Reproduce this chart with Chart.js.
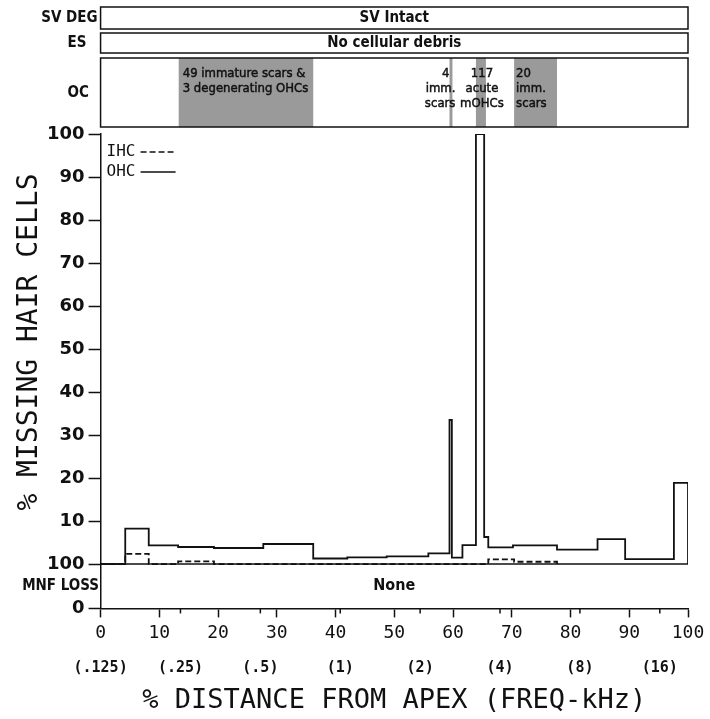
<!DOCTYPE html>
<html><head><meta charset="utf-8">
<script src="https://cdn.jsdelivr.net/npm/chart.js@4/dist/chart.umd.min.js"></script>
<style>html,body{margin:0;padding:0;background:#fff;}</style>
</head><body>
<canvas id="c" width="710" height="719"></canvas>
<script>
// ---- data ----
const ohcX = [0, 4.2, 8.2, 13.2, 19.3, 27.7, 36.2, 42.0, 48.7, 55.8, 59.4, 59.8, 61.6, 63.9, 65.3, 66.0, 70.2, 77.7, 84.6, 89.3, 97.6, 100];
const ohcY = [0, 8.25, 4.36, 3.97, 3.74, 4.67, 1.3, 1.55, 1.8, 2.5, 33.5, 1.5, 4.4, 100, 6.3, 3.9, 4.36, 3.35, 5.8, 1.17, 18.9, 0];
const ihcX = [0, 4.2, 8.2, 13.2, 19.3, 66.0, 70.4, 77.7];
const ihcY = [0, 2.4, 0, 0.62, 0, 1.1, 0.55, 0];
const seriesNames = ['IHC', 'OHC'];
const xTickValues = [0, 10, 20, 30, 40, 50, 60, 70, 80, 90, 100];
const freqTickValues = [0, 13.6, 27.2, 40.8, 54.4, 68.0, 81.6, 95.2];
const freqTickLabels = ['(.125)', '(.25)', '(.5)', '(1)', '(2)', '(4)', '(8)', '(16)'];
const yTickValues = [0, 10, 20, 30, 40, 50, 60, 70, 80, 90, 100];
const mnfTickLabels = ['0', '100'];
const rowLabels = ['SV DEG', 'ES', 'OC', 'MNF LOSS'];
const svText = 'SV Intact';
const esText = 'No cellular debris';
const mnfText = 'None';
const ocStart = [13.3, 59.4, 63.9, 70.4];
const ocEnd = [36.2, 59.9, 65.6, 77.7];
const ocTexts = [
  ['49 immature scars &', '3 degenerating OHCs'],
  ['4', 'imm.', 'scars'],
  ['117', 'acute', 'mOHCs'],
  ['20', 'imm.', 'scars']
];
const xTitle = '% DISTANCE FROM APEX (FREQ-kHz)';
const yTitle = '% MISSING HAIR CELLS';

// ---- layout / style ----
const INK = '#111';
const Y_MIN = -10.3;           // room for the MNF LOSS strip below the main plot
const NARROW = '"Liberation Sans Narrow", "Arial Narrow", "DejaVu Sans Condensed", sans-serif';
const COND = '"DejaVu Sans Condensed", "DejaVu Sans", sans-serif';
const MONO = '"DejaVu Sans Mono", monospace';

function heavyText(ctx, t, px, py) {
  ctx.fillText(t, px, py);
  ctx.strokeText(t, px, py);
}

const panelPlugin = {
  id: 'panels',
  afterDraw(chart) {
    const {ctx, chartArea: a, scales: {x, y}} = chart;
    const L = a.left, R = a.right;
    ctx.save();
    ctx.strokeStyle = INK; ctx.lineWidth = 1.5;
    const boxes = [[7, 29], [33, 53], [58, 127]];
    ctx.fillStyle = '#9a9a9a';
    ocStart.forEach((s, i) => {
      const x0 = x.getPixelForValue(s), x1 = x.getPixelForValue(ocEnd[i]);
      ctx.fillRect(x0, boxes[2][0], x1 - x0, boxes[2][1] - boxes[2][0]);
    });
    boxes.forEach(b => ctx.strokeRect(L, b[0], R - L, b[1] - b[0]));
    const mnfMid = (y.getPixelForValue(0) + y.getPixelForValue(Y_MIN)) / 2;
    // row labels
    ctx.fillStyle = INK;
    ctx.font = 'bold 15px ' + COND;
    ctx.textBaseline = 'middle';
    ctx.textAlign = 'right';
    ctx.fillText(rowLabels[0], L - 3, 18.5);
    ctx.textAlign = 'left';
    ctx.fillText(rowLabels[1], L - 33, 43.5);
    ctx.fillText(rowLabels[2], L - 33, 93);
    ctx.textAlign = 'right';
    ctx.fillText(rowLabels[3], L - 1.5, mnfMid);
    // y axis title (centred on the main plot, not on the MNF strip)
    ctx.save();
    ctx.font = '28px ' + MONO;
    ctx.textAlign = 'center';
    ctx.translate(30, (y.getPixelForValue(0) + y.getPixelForValue(100)) / 2 - 7);
    ctx.rotate(-Math.PI / 2);
    ctx.fillText(yTitle, 0, 0);
    ctx.restore();
    // box texts
    ctx.font = 'bold 15px ' + NARROW;
    ctx.textAlign = 'center';
    const cx = (L + R) / 2;
    ctx.fillText(svText, cx, 18.5);
    ctx.fillText(esText, cx, 43.5);
    ctx.font = 'bold 16px ' + NARROW;
    ctx.fillText(mnfText, cx, mnfMid);
    ctx.font = '13px ' + NARROW;
    ctx.lineWidth = 0.45;
    const lineY = [74, 89, 104];
    ctx.textAlign = 'left';
    ocTexts[0].forEach((t, k) => heavyText(ctx, t, x.getPixelForValue(ocStart[0]) + 4, lineY[k]));
    ctx.textAlign = 'right';
    const r1 = x.getPixelForValue(ocEnd[1]);
    heavyText(ctx, ocTexts[1][0], r1 - 3, lineY[0]);
    heavyText(ctx, ocTexts[1][1], r1 + 3, lineY[1]);
    heavyText(ctx, ocTexts[1][2], r1 + 3, lineY[2]);
    ctx.textAlign = 'center';
    const c2 = (x.getPixelForValue(ocStart[2]) + x.getPixelForValue(ocEnd[2])) / 2;
    ocTexts[2].forEach((t, k) => heavyText(ctx, t, c2 + 1, lineY[k]));
    ctx.textAlign = 'left';
    ocTexts[3].forEach((t, k) => heavyText(ctx, t, x.getPixelForValue(ocStart[3]) + 2, lineY[k]));

    // baseline of main plot
    ctx.lineWidth = 1.5;
    const y0 = y.getPixelForValue(0);
    ctx.beginPath(); ctx.moveTo(L, y0); ctx.lineTo(R, y0); ctx.stroke();
    // frequency minor ticks on x axis
    const yb = a.bottom;
    freqTickValues.forEach(v => {
      if (xTickValues.includes(v)) return;
      const px = x.getPixelForValue(v);
      ctx.beginPath(); ctx.moveTo(px, yb); ctx.lineTo(px, yb + 5); ctx.stroke();
    });
    // legend
    ctx.font = '16px ' + MONO;
    ctx.textAlign = 'left';
    chart.data.datasets.forEach((ds, i) => {
      const ly = 152 + i * 20;
      ctx.fillStyle = INK;
      ctx.fillText(ds.label, L + 6, ly);
      ctx.setLineDash(ds.borderDash || []);
      ctx.lineWidth = 1.5;
      ctx.beginPath(); ctx.moveTo(L + 40, ly); ctx.lineTo(L + 75, ly); ctx.stroke();
    });
    ctx.setLineDash([]);
    ctx.restore();
  }
};

new Chart(document.getElementById('c'), {
  type: 'line',
  data: {
    datasets: [
      { label: seriesNames[0], data: ihcX.map((v, i) => ({x: v, y: ihcY[i]})), stepped: 'before',
        borderColor: INK, borderWidth: 1.8, borderDash: [6, 3], pointRadius: 0, fill: false },
      { label: seriesNames[1], data: ohcX.map((v, i) => ({x: v, y: ohcY[i]})), stepped: 'before',
        borderColor: INK, borderWidth: 1.8, pointRadius: 0, fill: false }
    ]
  },
  options: {
    responsive: false, animation: false, devicePixelRatio: 1,
    layout: { padding: { top: 134, right: 22, left: 43, bottom: 5 } },
    plugins: { legend: { display: false }, tooltip: { enabled: false } },
    scales: {
      x: {
        type: 'linear', min: 0, max: 100, position: 'bottom',
        afterBuildTicks: s => { s.ticks = xTickValues.map(v => ({value: v})); },
        grid: { drawOnChartArea: false, tickLength: 9, tickColor: INK, tickWidth: 1.5 },
        border: { color: INK, width: 1.5 },
        ticks: { color: INK, font: { family: MONO, size: 18 }, padding: 5, maxRotation: 0, autoSkip: false }
      },
      x2: {
        type: 'linear', min: 0, max: 100, position: 'bottom',
        afterBuildTicks: s => { s.ticks = freqTickValues.map(v => ({value: v})); },
        grid: { display: false, drawTicks: false },
        border: { display: false },
        ticks: { color: INK, callback: (v, i) => freqTickLabels[i], font: { family: MONO, size: 15, weight: 'bold' },
                 padding: 10, maxRotation: 0, autoSkip: false },
        title: { display: true, text: xTitle, color: INK, font: { family: MONO, size: 27, lineHeight: 1.0 }, padding: { top: 0, bottom: 0 } }
      },
      y: {
        type: 'linear', min: Y_MIN, max: 100,
        afterBuildTicks: s => { s.ticks = [{value: Y_MIN}].concat(yTickValues.map(v => ({value: v}))); },
        grid: { drawOnChartArea: false, tickLength: 12, tickColor: INK, tickWidth: 1.5 },
        border: { color: INK, width: 1.5 },
        ticks: {
          color: INK, font: { family: '"DejaVu Sans", sans-serif', size: 18, weight: 'bold' }, padding: 4, autoSkip: false,
          callback: v => v === Y_MIN ? mnfTickLabels[0] : (v === 0 ? mnfTickLabels[1] : String(v))
        },
        title: { display: false, text: yTitle }
      }
    }
  },
  plugins: [panelPlugin]
});
</script>
</body></html>
